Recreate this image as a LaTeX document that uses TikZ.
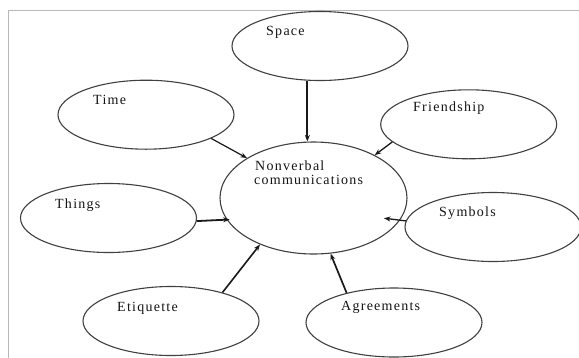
\documentclass[tikz,border=0pt]{standalone}
\usepackage{fontspec}
\newfontfamily\lblfont{Liberation Serif}[LetterSpace=9]
\usetikzlibrary{arrows.meta,calc,shapes.geometric}
\begin{document}
\begin{tikzpicture}[x=1pt,y=-1pt,
  bubble/.style={ellipse,draw=black!75,line width=1.1pt,minimum width=176pt,minimum height=69pt,inner sep=0pt},
  hub/.style={ellipse,draw=black!75,line width=1.1pt,minimum width=187pt,minimum height=112pt,inner sep=0pt},
  lbl/.style={anchor=base west,inner sep=0pt,font=\lblfont\fontsize{14}{15}\selectfont,text=black!92},
  link/.style={draw=black!90,line width=1.4pt,-{Stealth[length=6.5pt,width=5pt]}},
  frame/.style={draw=black!28,line width=1.3pt}]
\useasboundingbox (0,0) rectangle (579,357);
\clip (0,0) rectangle (579,357);
\fill[white] (0,0) rectangle (579,357);
\draw[frame] (8.3,400) -- (8.3,10.7) -- (600,10.7);
% ellipses
\node[hub] (center) at (313.5,198) {};
\node[bubble] (space) at (320,46) {};
\node[bubble] (time) at (146,114.7) {};
\node[bubble] (friend) at (468.7,124.3) {};
\node[bubble] (things) at (108.5,218) {};
\node[bubble] (symbols) at (493,227) {};
\node[bubble] (etiq) at (171,321) {};
\node[bubble] (agree) at (394,322.5) {};
% labels
\node[lbl] (tspace) at (266,35) {Space};
\node[lbl] (ttime) at (93,104.5) {Time};
\node[lbl] (tfriend) at (413,111.8) {Friendship};
\node[lbl] (tnv1) at (255,170) {Nonverbal};
\node[lbl] (tnv2) at (254,184) {communications};
\node[lbl] (tthings) at (55,208.5) {Things};
\node[lbl] (tsym) at (439,216.8) {Symbols};
\node[lbl] (tetiq) at (117,311) {Etiquette};
\node[lbl] (tagree) at (341,310) {Agreements};
% connectors
\draw[link,line width=2.2pt] (space.-110.4) -- (space.-110.4 |- center.north);
\draw[link,line width=1.2pt] (time.-20.3) -- (center.149.9);
\draw[link,line width=1.3pt] (friend.193.9) -- (center.35.8);
\draw[link,line width=1.8pt,shorten >=-3pt] (things.-2.4) -- (center.194.4);
\draw[link,line width=1.3pt] (symbols.176.6) -- ($(symbols.176.6)!22pt!(center.west)$);
\draw[link,line width=1.6pt] (etiq.29) -- (center.221.3);
\draw[link,line width=1.7pt] (agree.148.3) -- (center.-73.4);
\end{tikzpicture}
\end{document}
